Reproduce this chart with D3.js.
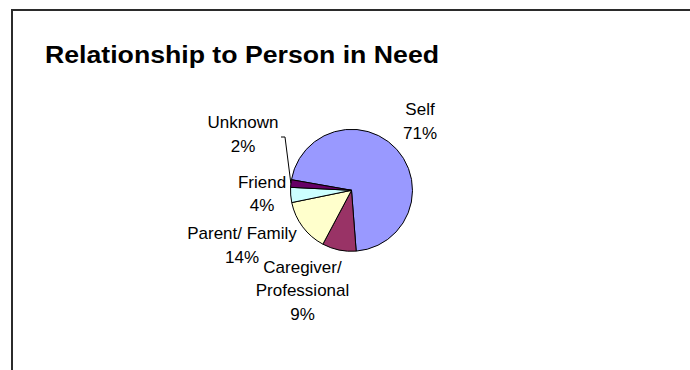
<!DOCTYPE html>
<html>
<head>
<meta charset="utf-8">
<script src="https://cdn.jsdelivr.net/npm/d3@7"></script>
<style>
  html, body { margin: 0; padding: 0; background: #ffffff; }
  svg { display: block; }
  text { font-family: "Liberation Sans", Arial, sans-serif; fill: #000; }
</style>
</head>
<body>
<svg id="chart" width="690" height="370"></svg>
<script>
// Relationship of the caller to the person in need (percent of calls)
const categories = ["Self", "Caregiver/ Professional", "Parent/ Family", "Friend", "Unknown"];
const shares = [71, 9, 14, 4, 2];
const sliceColors = ["#9999FF", "#993366", "#FFFFCC", "#CCFFFF", "#660066"];
// label lines per slice (category words + percentage)
const labelLines = [
  ["Self", "71%"],
  ["Caregiver/", "Professional", "9%"],
  ["Parent/ Family", "14%"],
  ["Friend", "4%"],
  ["Unknown", "2%"]
];
const title = "Relationship to Person in Need";

const svg = d3.select("#chart");
const W = 690, H = 370;

// frame: top and left edges of the chart area
svg.append("path")
  .attr("d", `M12,${H} V10 H${W}`)
  .attr("fill", "none")
  .attr("stroke", "#2b2b2b")
  .attr("stroke-width", 2);

svg.append("text")
  .attr("x", 45)
  .attr("y", 62.5)
  .attr("font-size", 23)
  .attr("font-weight", "bold")
  .attr("textLength", 394)
  .attr("lengthAdjust", "spacingAndGlyphs")
  .text(title);

const cx = 351.5, cy = 190.3, r = 61;
const g = svg.append("g").attr("transform", `translate(${cx},${cy})`);

const startAngle = -80 * Math.PI / 180;
const pie = d3.pie().sort(null).value(d => d)
  .startAngle(startAngle).endAngle(startAngle + 2 * Math.PI);
const arcs = pie(shares);
const arc = d3.arc().innerRadius(0).outerRadius(r);

g.selectAll("path.slice")
  .data(arcs)
  .join("path")
  .attr("class", "slice")
  .attr("d", arc)
  .attr("fill", (d, i) => sliceColors[i])
  .attr("stroke", "#000")
  .attr("stroke-width", 1)
  .attr("stroke-linejoin", "round");

// label anchor: centre x and first baseline, positioned around the pie
const labelPos = [
  { x: 420, y: 115 },
  { x: 302.5, y: 272.7 },
  { x: 242, y: 239.3 },
  { x: 262, y: 187.7 },
  { x: 243, y: 128.3 }
];
const lineGap = 23.6;

labelLines.forEach((lines, i) => {
  const t = svg.append("text")
    .attr("text-anchor", "middle")
    .attr("font-size", 17);
  lines.forEach((ln, k) => {
    t.append("tspan")
      .attr("x", labelPos[i].x)
      .attr("y", labelPos[i].y + k * lineGap)
      .text(ln);
  });
});

// leader line from the small "Unknown" slice to its label
const unk = arcs[4];
const mid = (unk.startAngle + unk.endAngle) / 2;
const edge = [cx + r * Math.sin(mid), cy - r * Math.cos(mid)];
svg.append("polyline")
  .attr("points", `281,137 285,137 ${edge[0]},${edge[1]}`)
  .attr("fill", "none")
  .attr("stroke", "#000")
  .attr("stroke-width", 1);
</script>
</body>
</html>
